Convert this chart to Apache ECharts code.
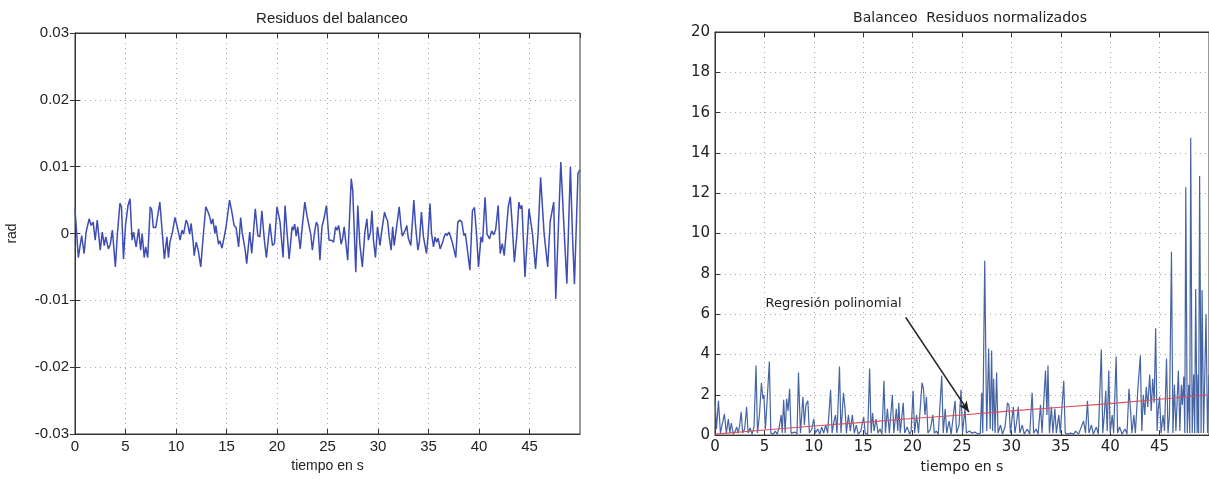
<!DOCTYPE html>
<html><head><meta charset="utf-8">
<script src="https://cdn.jsdelivr.net/npm/echarts@6/dist/echarts.min.js"></script>
<style>html,body{margin:0;padding:0;background:#fff}#c{width:1209px;height:479px}</style>
</head><body><div id="c"></div>
<script>
// Left chart: roll residuals (rad) vs time (s)
const leftT = [0,0.33,0.66,0.9,1.1,1.4,1.6,1.8,2.0,2.2,2.5,2.7,2.9,3.05,3.3,3.5,3.7,4.0,4.2,4.45,4.6,4.8,5.0,5.25,5.45,5.65,5.8,6.05,6.3,6.5,6.65,6.85,7.0,7.2,7.45,7.6,7.75,8.0,8.4,8.6,8.85,9.1,9.25,9.4,9.65,9.9,10.2,10.4,10.6,10.75,11.0,11.15,11.35,11.5,11.7,11.8,12.0,12.2,12.45,12.7,12.95,13.15,13.3,13.5,13.65,13.85,13.95,14.2,14.35,14.55,14.8,14.95,15.3,15.5,15.75,15.95,16.2,16.4,16.55,16.85,17.0,17.3,17.5,17.85,18.1,18.3,18.5,18.75,18.95,19.3,19.55,19.75,20.0,20.3,20.45,20.6,20.8,21.0,21.2,21.5,21.6,21.75,21.9,22.05,22.3,22.5,22.75,23.0,23.15,23.35,23.5,23.75,23.9,24.05,24.25,24.45,24.65,24.9,25.15,25.4,25.6,25.8,25.95,26.1,26.2,26.35,26.5,26.65,27.0,27.35,27.5,27.8,28.0,28.2,28.45,28.7,28.9,29.05,29.25,29.4,29.55,29.75,29.95,30.2,30.4,30.65,30.8,30.95,31.1,31.3,31.45,31.6,31.8,32.1,32.25,32.4,32.55,32.7,32.85,33.0,33.25,33.55,33.7,33.95,34.1,34.3,34.5,34.8,34.95,35.15,35.3,35.5,35.65,35.8,35.95,36.15,36.4,36.55,36.7,36.85,37.0,37.15,37.35,37.7,37.9,38.1,38.3,38.5,38.65,38.8,39.1,39.35,39.55,39.75,39.95,40.2,40.35,40.6,40.8,41.05,41.25,41.45,41.65,41.9,42.1,42.3,42.5,42.9,43.1,43.3,43.5,43.75,43.95,44.1,44.25,44.55,44.8,44.95,45.1,45.3,45.6,45.85,46.1,46.45,46.8,47.05,47.4,47.6,48.1,48.5,48.7,49.05,49.25,49.45,49.8,50.0];
const leftV = [0.0037,-0.0036,-0.0003,-0.003,0.0002,0.0022,0.0012,0.0017,-0.001,0.002,-0.0025,0.0002,-0.0018,-0.0005,-0.0023,-0.0016,0.0005,-0.005,0.0,0.0045,0.004,-0.0038,0.0012,0.0042,0.0052,-0.001,0.0002,-0.002,0.0007,-0.0025,0.0,-0.0036,-0.002,-0.0036,0.004,0.0035,0.0009,0.0009,0.0047,0.0009,-0.0038,-0.0005,-0.0036,-0.0013,0.0002,0.0024,0.0005,-0.001,0.0005,-0.0001,0.002,0.0015,-0.0001,0.0015,-0.0013,-0.0033,-0.0013,-0.0025,-0.005,-0.0003,0.004,0.0033,0.0027,0.0014,0.0022,0.0,0.0012,-0.0016,-0.0011,-0.0022,-0.0003,0.0009,0.005,0.0035,0.0012,0.0009,-0.002,0.0024,0.0002,-0.0025,-0.0045,0.0002,-0.003,0.0037,-0.0003,-0.0005,0.0034,-0.001,-0.0036,0.0015,-0.0018,-0.0015,0.004,0.0017,0.0018,-0.0036,0.0042,0.0,-0.0038,0.001,0.0005,0.0014,-0.0004,0.001,-0.0023,0.001,0.0047,0.0024,0.0022,-0.0002,-0.0025,0.0005,0.0017,0.0012,-0.004,0.001,0.0022,0.0042,-0.001,-0.001,-0.0013,0.001,0.0005,0.0012,0.0002,-0.0016,-0.0007,0.001,-0.004,0.0082,0.0064,-0.0058,0.0042,-0.0016,-0.005,0.0002,0.0022,-0.001,0.0002,0.0034,-0.001,-0.0036,0.001,-0.0018,0.0007,0.0032,0.0024,0.0019,-0.0004,-0.0025,0.001,-0.0018,0.0005,0.004,0.0015,-0.0004,-0.0002,0.0005,0.0012,-0.0007,-0.0018,0.005,0.0015,-0.0025,-0.0012,0.0032,-0.0005,-0.003,-0.0005,0.0045,0.0,-0.002,-0.0005,-0.0013,-0.0007,-0.0023,-0.0013,-0.0005,0.0,-0.0003,0.0002,-0.0003,-0.0013,-0.0036,0.0017,0.002,0.0017,-0.0003,0.0,-0.0002,-0.0055,0.0034,0.0039,0.0,-0.005,-0.0005,-0.0013,0.0054,-0.0001,-0.0008,0.0004,-0.0002,0.0006,0.0042,-0.003,-0.0015,-0.0033,0.004,0.0055,0.001,-0.0043,-0.0002,0.0047,0.0037,0.0042,-0.0065,-0.0002,0.0037,0.0035,-0.0001,-0.0053,0.0,0.0084,-0.0001,-0.005,0.0018,0.0047,-0.0098,0.0107,-0.0017,-0.0075,0.01,0.0,-0.0076,0.009,0.0095];

// Right chart: normalized residuals vs time (s)
const rightT = [0,0.15,0.35,0.55,0.75,0.95,1.15,1.35,1.5,1.65,1.85,2.05,2.2,2.35,2.5,2.65,2.8,3.0,3.2,3.35,3.55,3.75,3.95,4.15,4.3,4.5,4.7,4.85,4.95,5.1,5.3,5.5,5.65,5.9,6.1,6.3,6.5,6.7,6.8,6.95,7.1,7.25,7.4,7.55,7.7,7.9,8.1,8.3,8.45,8.65,8.9,9.05,9.2,9.4,9.55,9.8,10.0,10.15,10.4,10.6,10.8,11.0,11.2,11.4,11.7,11.85,12.05,12.2,12.35,12.6,12.75,13.0,13.15,13.3,13.5,13.7,13.9,14.1,14.3,14.5,14.75,15.05,15.2,15.45,15.65,15.8,15.95,16.1,16.3,16.5,16.7,16.9,17.1,17.25,17.45,17.65,17.95,18.1,18.35,18.5,18.6,18.75,19.05,19.2,19.45,19.7,19.85,20.05,20.2,20.4,20.6,20.95,21.1,21.25,21.4,21.55,21.8,22.05,22.2,22.4,22.6,22.95,23.1,23.3,23.45,23.7,23.9,24.1,24.3,24.45,24.7,24.9,25.05,25.3,25.45,25.75,26.0,26.3,26.6,26.85,27.0,27.1,27.3,27.5,27.7,27.85,28.0,28.1,28.2,28.35,28.5,28.65,28.9,29.1,29.35,29.6,29.75,29.9,30.2,30.35,30.55,30.7,30.85,31.1,31.3,31.6,31.85,32.1,32.25,32.5,32.7,32.95,33.1,33.45,33.6,33.7,33.85,34.05,34.2,34.4,34.55,34.8,34.95,35.3,35.45,35.7,36.0,36.3,36.5,36.8,37.0,37.3,37.5,37.7,37.85,38.1,38.3,38.6,38.8,39.1,39.25,39.4,39.55,39.7,39.85,40.0,40.2,40.35,40.6,40.75,40.95,41.2,41.5,41.7,41.9,42.05,42.2,42.4,42.55,42.8,43.05,43.2,43.35,43.5,43.65,43.8,44.0,44.15,44.3,44.45,44.6,44.75,44.85,45.0,45.15,45.35,45.5,45.7,45.85,46.0,46.2,46.35,46.5,46.65,46.9,47.05,47.2,47.3,47.45,47.55,47.65,47.8,47.95,48.05,48.15,48.3,48.45,48.55,48.65,48.8,48.9,48.95,49.05,49.2,49.3,49.45,49.7,49.85,50.0];
const rightV = [1.8,0.3,1.7,0.1,0.05,1.05,0.1,0.8,0.1,0.6,0.05,0.2,0.4,0.1,0.5,1.15,0.1,0.3,1.4,0.1,0.35,0.05,0.4,3.45,0.1,1.0,2.6,1.8,2.0,0.3,1.9,3.65,0.1,0.05,0.2,0.05,0.4,1.0,0.1,1.75,0.1,1.8,1.2,2.3,0.1,0.05,0.15,0.05,3.1,0.1,1.9,0.5,1.5,1.7,0.1,0.3,0.8,0.1,0.3,0.05,0.4,0.1,0.5,0.1,2.25,0.1,0.7,1.0,0.1,3.4,0.1,2.1,1.4,0.1,1.0,0.2,1.0,0.1,0.5,0.05,0.2,0.9,0.1,0.05,3.3,0.1,1.1,0.2,0.8,0.1,0.3,0.05,2.7,0.1,1.3,0.1,2.0,0.1,1.3,0.2,1.6,0.1,1.6,0.1,0.4,0.05,0.2,2.2,0.1,1.0,0.1,2.6,2.3,1.0,1.9,0.1,0.3,1.0,0.1,0.2,0.05,2.95,0.1,1.3,0.1,0.7,0.05,0.1,1.7,0.1,0.5,2.25,0.1,1.3,0.1,0.2,0.1,0.15,0.05,0.1,2.1,0.1,8.65,0.2,4.3,0.3,4.2,0.2,2.8,0.1,3.1,0.1,0.5,0.05,0.4,1.6,1.5,0.1,1.4,0.1,0.7,1.4,0.1,0.5,0.05,0.3,0.05,2.1,0.1,0.3,0.05,1.5,0.1,3.2,1.0,3.45,0.1,1.4,0.1,1.3,0.1,1.0,0.1,2.7,0.1,0.05,0.1,0.05,0.2,0.05,0.1,0.7,0.1,1.7,0.1,0.5,0.05,0.4,0.05,4.25,0.1,1.0,2.2,0.2,3.2,0.1,1.0,0.1,3.9,0.1,0.4,0.05,0.3,0.05,2.3,1.3,0.1,1.0,0.1,2.3,3.95,0.2,2.0,1.0,2.4,1.4,3.0,1.2,2.8,1.6,5.3,0.2,1.2,1.9,0.1,1.0,0.2,3.8,0.1,1.0,9.1,0.1,2.5,0.2,3.2,0.2,2.5,1.5,2.9,0.1,12.3,0.1,2.5,0.1,14.75,0.1,3.0,0.1,7.25,0.1,3.0,0.1,12.85,0.1,7.2,0.1,6.0,0.1,3.0];

// Polynomial regression curve
const regT = [0,5,10,15,20,25,30,35,40,45,50];
const regV = [0.05,0.25,0.45,0.63,0.82,1.0,1.2,1.38,1.56,1.78,2.0];

// Annotation
const annoText = 'Regresión polinomial';
const annoTextAt = [12.0, 6.5];
const arrowFrom = [19.3, 5.84];
const arrowTo = [25.7, 1.14];

const zip = (a, b) => a.map((t, i) => [t, b[i]]);

const LF = 'Liberation Sans';
const RF = 'DejaVu Sans';
const grid = '#a8a8a8';

function xAx(gi, font, size, pos, labels) {
  return {
    type: 'value', gridIndex: gi, min: 0, max: 50, interval: 5, position: pos,
    axisLine: {show: true, onZero: false, lineStyle: {color: '#333', width: 1}},
    axisTick: {show: true, inside: true, length: 5, lineStyle: {color: '#333'}},
    axisLabel: {show: labels, fontFamily: font, fontSize: size, color: '#222', margin: 5, showMaxLabel: false},
    splitLine: {show: labels, lineStyle: {type: [1, 4], color: grid, width: 1}},
    name: labels ? 'tiempo en s' : '', nameLocation: 'middle', nameGap: 24,
    nameTextStyle: {fontFamily: font, fontSize: 14, color: '#222'}
  };
}

const option = {
  animation: false,
  backgroundColor: '#fff',
  title: [
    {text: 'Residuos del balanceo', left: 327, top: 6, textAlign: 'center',
     textStyle: {fontFamily: LF, fontSize: 15, fontWeight: 'normal', color: '#222'}},
    {text: 'Balanceo  Residuos normalizados', left: 965, top: 6, textAlign: 'center',
     textStyle: {fontFamily: RF, fontSize: 14, fontWeight: 'normal', color: '#222'}}
  ],
  grid: [
    {left: 75, top: 33, width: 505, height: 401, show: true, borderColor: '#333', borderWidth: 1, backgroundColor: '#fff'},
    {left: 715, top: 32, width: 500, height: 404, show: true, borderColor: '#333', borderWidth: 1, backgroundColor: '#fff'}
  ],
  xAxis: [
    xAx(0, LF, 15, 'bottom', true),
    xAx(0, LF, 15, 'top', false),
    xAx(1, RF, 15, 'bottom', true),
    xAx(1, RF, 15, 'top', false)
  ],
  yAxis: [
    {type: 'value', gridIndex: 0, min: -0.03, max: 0.03, interval: 0.01,
     axisLine: {show: true, lineStyle: {color: '#333'}},
     axisTick: {show: true, inside: true, length: 5, lineStyle: {color: '#333'}},
     axisLabel: {fontFamily: LF, fontSize: 15, color: '#222', margin: 6},
     splitLine: {show: true, lineStyle: {type: [1, 4], color: grid}},
     name: 'rad', nameLocation: 'middle', nameGap: 56,
     nameTextStyle: {fontFamily: LF, fontSize: 14, color: '#222'}},
    {type: 'value', gridIndex: 0, min: -0.03, max: 0.03, interval: 0.01, position: 'right',
     axisLine: {show: true, lineStyle: {color: '#333'}},
     axisTick: {show: true, inside: true, length: 5, lineStyle: {color: '#333'}},
     axisLabel: {show: false}, splitLine: {show: false}},
    {type: 'value', gridIndex: 1, min: 0, max: 20, interval: 2,
     axisLine: {show: true, lineStyle: {color: '#333'}},
     axisTick: {show: true, inside: true, length: 5, lineStyle: {color: '#333'}},
     axisLabel: {fontFamily: RF, fontSize: 15, color: '#222', margin: 5},
     splitLine: {show: true, lineStyle: {type: [1, 4], color: grid}}}
  ],
  series: [
    {type: 'line', xAxisIndex: 0, yAxisIndex: 0, data: zip(leftT, leftV), symbol: 'none',
     lineStyle: {color: '#3d4db4', width: 1.5}},
    {type: 'line', xAxisIndex: 2, yAxisIndex: 2, data: zip(rightT, rightV), symbol: 'none',
     lineStyle: {color: '#4564a4', width: 1.2}},
    {type: 'line', xAxisIndex: 2, yAxisIndex: 2, data: zip(regT, regV), symbol: 'none',
     lineStyle: {color: '#d9505c', width: 1.1},
     markLine: {silent: true, symbol: ['none', 'arrow'], symbolSize: [7, 11],
       lineStyle: {color: '#222', width: 1.6, type: 'solid'}, label: {show: false},
       data: [[{coord: arrowFrom}, {coord: arrowTo}]]},
     markPoint: {symbol: 'circle', symbolSize: 0,
       label: {show: true, position: 'inside', formatter: annoText, fontFamily: RF, fontSize: 13, color: '#222'},
       data: [{coord: annoTextAt}]}}
  ]
};

const chart = echarts.init(document.getElementById('c'), null, {renderer: 'canvas'});
chart.setOption(option);
</script></body></html>
